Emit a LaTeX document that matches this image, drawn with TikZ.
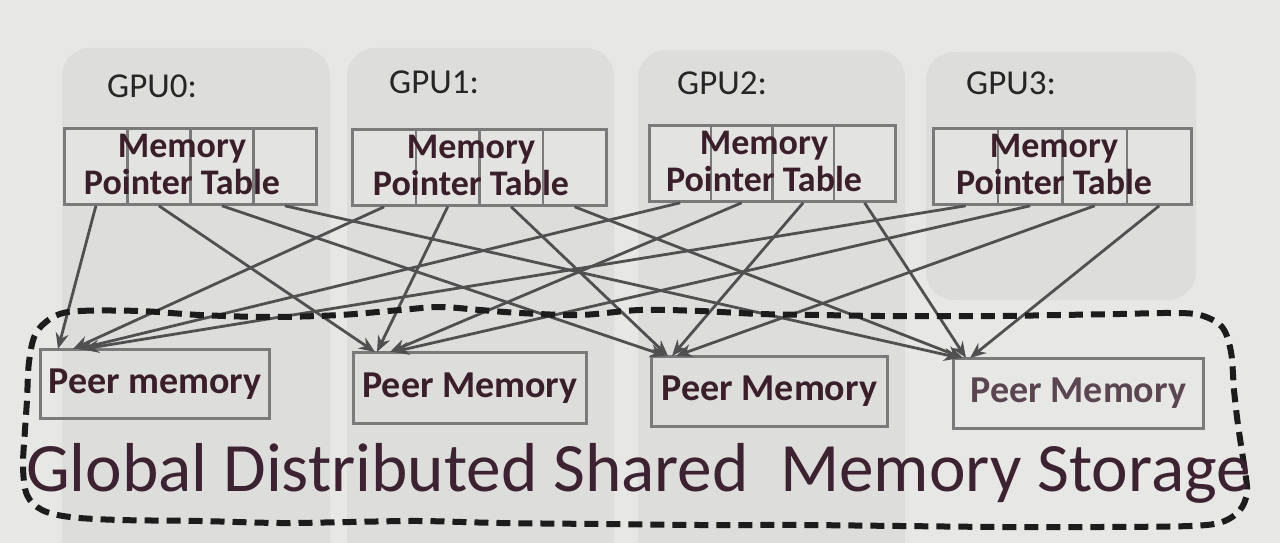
\documentclass[tikz,border=0pt]{standalone}
\usepackage{fontspec}
\setmainfont{Carlito}
\usetikzlibrary{arrows.meta}
\definecolor{pagebg}{HTML}{E7E7E5}
\definecolor{panelbg}{HTML}{DDDDDC}
\definecolor{cellbg}{HTML}{E3E3E2}
\definecolor{boxline}{HTML}{7A7A7A}
\definecolor{maroon}{HTML}{3A1E2A}
\definecolor{maroonlight}{HTML}{5A4550}
\definecolor{titlecol}{HTML}{3D2231}
\definecolor{gpucol}{HTML}{262626}
\definecolor{arrowcol}{HTML}{505050}
\definecolor{dashcol}{HTML}{1C1C1C}
\begin{document}
\begin{tikzpicture}[x=1pt,y=-1pt,
  panel/.style={fill=panelbg, rounded corners=28pt},
  cell/.style={draw=boxline, fill=cellbg, line width=2.8pt, inner sep=0pt, minimum height=76pt},
  tabtext/.style={align=center, text=maroon, inner sep=0pt, font=\bfseries\fontsize{36}{37}\selectfont},
  peerbox/.style={draw=boxline, line width=3pt, inner sep=0pt, anchor=north west, text=maroon, font=\bfseries\fontsize{38}{40}\selectfont},
  gpulabel/.style={anchor=base west, inner sep=0pt, text=gpucol, font=\fontsize{35}{36}\selectfont},
  arr/.style={draw=arrowcol, line width=2.8pt, -{Stealth[length=16pt,width=13pt]}},
  region/.style={draw=dashcol, line width=6pt, dash pattern=on 14pt off 8pt}
]
\useasboundingbox (0,0) rectangle (1280,543);
\fill[pagebg] (0,0) rectangle (1280,543);

% background panels
\fill[panel] (62,48) rectangle (330,580);
\fill[panel] (347,48) rectangle (614,580);
\fill[panel] (638,50) rectangle (905,580);
\fill[panel] (926,52) rectangle (1196,300);

% GPU labels
\node[gpulabel] (g0) at (107,97) {GPU0:};
\node[gpulabel] (g1) at (389,93) {GPU1:};
\node[gpulabel] (g2) at (677,94) {GPU2:};
\node[gpulabel] (g3) at (966,94) {GPU3:};

% memory pointer tables
\foreach \g/\x/\y/\w in {0/63/127/252, 1/351/128/254, 2/648/124/246, 3/932/127/258} {
  \foreach \c in {0,1,2,3} {
    \node[cell, minimum width=\w/4, anchor=north west] (t\g-\c) at ({\x+\c*\w/4},\y) {};
  }
  \node[tabtext] (tt\g) at ({\x+\w/2-7},{\y+37}) {Memory\\Pointer Table};
}

% peer memory boxes
\node[peerbox, minimum width=229pt, minimum height=69pt] (p0) at (39,348) {Peer memory};
\node[peerbox, minimum width=233pt, minimum height=71pt] (p1) at (352,351) {Peer Memory};
\node[peerbox, minimum width=236pt, minimum height=70pt] (p2) at (650,355) {Peer Memory};
\node[peerbox, minimum width=250pt, minimum height=70pt, text=maroonlight] (p3) at (952,357) {Peer Memory};

% connectors: cell c of every GPU -> peer memory c
\foreach \c/\dlist in {0/{19,34,39,44}, 1/{23,25,38,41}, 2/{16,18,22,26}, 3/{8,11,14,18}} {
  \foreach \g [count=\i from 0] in \dlist {
    \draw[arr] (t\i-\c.south) -- ([xshift=\g pt, yshift=-1pt]p\c.north west);
  }
}

% global distributed shared memory region
\draw[region] plot[smooth cycle, tension=0.55] coordinates {
  (55,316) (80,311) (140,311) (200,315) (270,317) (340,315) (400,310) (440,307)
  (480,310) (520,313) (580,315) (640,310) (700,311) (760,314) (820,315) (880,316)
  (940,316) (1000,316) (1060,315) (1120,314) (1170,313) (1200,315) (1222,327)
  (1231,352) (1234,390) (1238,425) (1244,465) (1247,492) (1240,510) (1222,522)
  (1190,526) (1100,527) (1000,527) (900,526) (800,525) (700,525) (600,524)
  (500,523) (420,521) (350,522) (280,523) (200,521) (120,520) (70,517) (42,510)
  (27,495) (23,467) (25,430) (27,400) (29,362) (36,333)
};

\node[anchor=base west, inner sep=0pt, text=titlecol, font=\fontsize{69.3}{71}\selectfont] (title) at (26,491) {Global Distributed Shared\ \ Memory Storage};
\end{tikzpicture}
\end{document}
